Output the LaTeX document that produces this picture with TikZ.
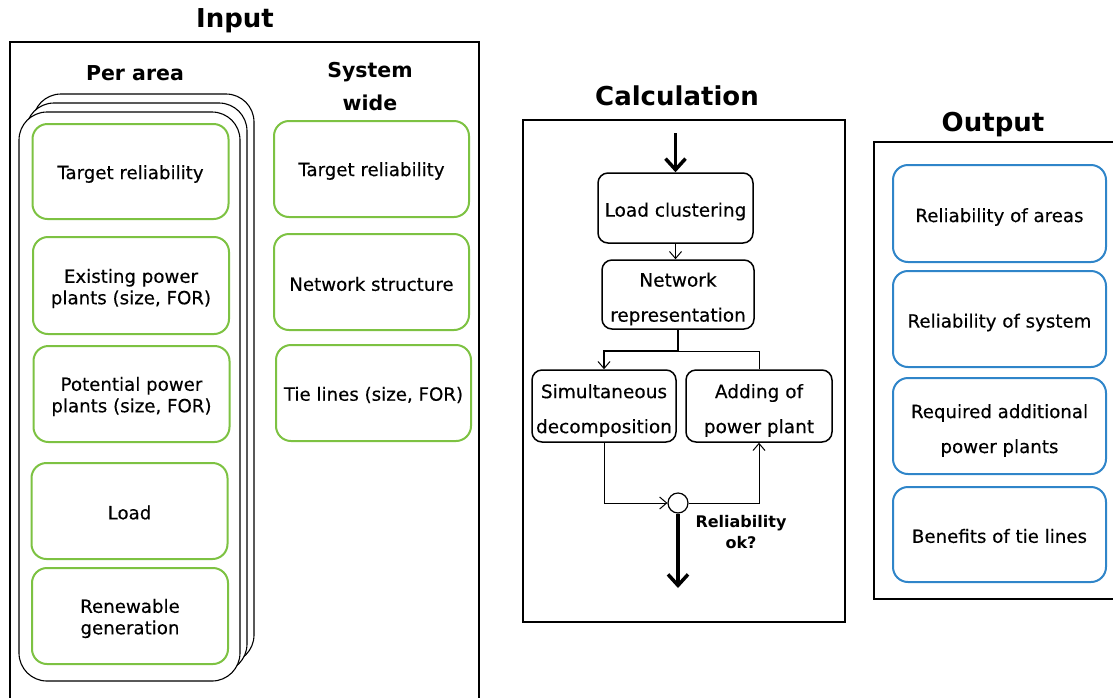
\documentclass[tikz,border=0pt]{standalone}
\usepackage{fontspec}
\setmainfont{DejaVu Sans}
\newfontfamily\boxfont{DejaVu Sans}[FakeBold=0.3]
\usetikzlibrary{arrows.meta}

\definecolor{ingreen}{HTML}{7DC242}
\definecolor{outblue}{HTML}{2F85C9}

\tikzset{
  frame/.style={draw=black, line width=2pt},
  title/.style={font=\fontsize{26}{30}\selectfont\bfseries},
  subtitle/.style={font=\fontsize{20.5}{33}\selectfont\bfseries, align=center},
  card/.style={draw=black, fill=white, line width=1.1pt, rounded corners=28pt},
  inbox/.style={draw=ingreen, fill=white, line width=2pt, rounded corners=15pt, inner sep=0pt},
  intext/.style={align=center, inner sep=0pt, font=\boxfont\fontsize{18.2}{21.5}\selectfont},
  outbox/.style={draw=outblue, fill=white, line width=2pt, rounded corners=15pt, inner sep=0pt},
  outtext/.style={align=center, inner sep=0pt, font=\boxfont\fontsize{18.2}{35}\selectfont},
  calcbox/.style={draw=black, line width=1.5pt, rounded corners=10pt, inner sep=0pt},
  calctext/.style={align=center, inner sep=0pt, font=\boxfont\fontsize{18.5}{35}\selectfont},
  flow/.style={draw=black, line width=1pt, -{Straight Barb[length=7pt,width=12pt,line width=1pt]}},
  link/.style={draw=black, line width=1pt},
  bigflow/.style={draw=black, line width=3.5pt, -{Straight Barb[length=11pt,width=20pt,line width=3.5pt]}},
}

\begin{document}
\begin{tikzpicture}[x=1pt, y=-1pt]
\useasboundingbox (0,0) rectangle (1113,697);
\clip (0,0) rectangle (1113,697);

% ---------------- Input ----------------
\node[title] (tin) at (235,20.5) {Input};
\draw[frame] (10,705) -- (10,42) -- (479,42) -- (479,705);

\node[subtitle] (tper) at (135,73) {Per area};
\node[subtitle] (tsys) at (370,87) {System\\wide};

% stacked area cards
\draw[card] (33,94) rectangle (254,663);
\draw[card] (26,103) rectangle (247,672);
\draw[card] (19,112) rectangle (240,681);

\node[inbox, minimum width=196pt, minimum height=95pt] (a1) at (130.5,171.5) {};
\node[inbox, minimum width=196pt, minimum height=97pt] (a2) at (131,285.5) {};
\node[inbox, minimum width=196pt, minimum height=96pt] (a3) at (131.5,394) {};
\node[inbox, minimum width=196pt, minimum height=96pt] (a4) at (129.5,511) {};
\node[inbox, minimum width=196pt, minimum height=96pt] (a5) at (130,616) {};
\node[intext] (a1t) at ([yshift=-2.5pt]a1.center) {Target reliability};
\node[intext] (a2t) at ([yshift=-3pt]a2.center) {Existing power\\plants (size, FOR)};
\node[intext] (a3t) at ([yshift=-2.5pt]a3.center) {Potential power\\plants (size, FOR)};
\node[intext] (a4t) at ([yshift=-1.5pt]a4.center) {Load};
\node[intext] (a5t) at ([yshift=-2.5pt]a5.center) {Renewable\\generation};

\node[inbox, minimum width=195pt, minimum height=96pt] (s1) at (371.5,169) {};
\node[inbox, minimum width=195pt, minimum height=96pt] (s2) at (371.5,282) {};
\node[inbox, minimum width=195pt, minimum height=96pt] (s3) at (373.5,393) {};
\node[intext] (s1t) at ([yshift=-2pt]s1.center) {Target reliability};
\node[intext] (s2t) at ([yshift=-2pt]s2.center) {Network structure};
\node[intext] (s3t) at ([yshift=-2pt]s3.center) {Tie lines (size, FOR)};

% ---------------- Calculation ----------------
\node[title] (tcalc) at (677,96) {Calculation};
\draw[frame] (523,120) rectangle (845,622);

\node[calcbox, minimum width=155pt, minimum height=70pt] (lc) at (675.5,208) {};
\node[calcbox, minimum width=152pt, minimum height=69pt] (nr) at (678,294.5) {};
\node[calcbox, minimum width=144pt, minimum height=72pt] (sd) at (604,406) {};
\node[calcbox, minimum width=146pt, minimum height=72pt] (ap) at (759,406) {};
\node[calctext] (lct) at ([yshift=-3.5pt]lc.center) {Load clustering};
\node[calctext] (nrt) at ([yshift=-4.5pt]nr.center) {Network\\representation};
\node[calctext] (sdt) at ([yshift=-4.5pt]sd.center) {Simultaneous\\decomposition};
\node[calctext] (apt) at ([yshift=-4.5pt]ap.center) {Adding of\\power plant};

\node[draw=black, line width=1.2pt, circle, fill=white, minimum size=20pt, inner sep=0pt] (ok) at (678,503) {};
\node[font=\fontsize{16}{21}\selectfont\bfseries, align=center] (okl) at (741,532.5) {Reliability\\ok?};

\coordinate (cin) at (675.5,133);
\coordinate (br) at (678,351);
\coordinate (cout) at (678,588);

\draw[bigflow] (cin) -- (lc.north);
\draw[flow] (lc.south) -- (lc.south |- nr.north);
\draw[link] (br) -| (ap.north);
\draw[link, line width=1.6pt] (nr.south) -- (br);
\draw[flow, line width=1.6pt] (br) -| (sd.north);
\draw[flow] (sd.south) |- (ok.west);
\draw[flow] (ok.east) -| (ap.south);
\draw[bigflow] (ok.south) -- (cout);

% ---------------- Output ----------------
\node[title] (tout) at (993,124.5) {Output};
\draw[frame] (1120,142) -- (874,142) -- (874,599) -- (1120,599);

\node[outbox, minimum width=213pt, minimum height=97pt] (o1) at (999.5,213.5) {};
\node[outbox, minimum width=213pt, minimum height=96pt] (o2) at (999.5,319) {};
\node[outbox, minimum width=213pt, minimum height=96pt] (o3) at (999.5,426) {};
\node[outbox, minimum width=213pt, minimum height=95pt] (o4) at (999.5,534.5) {};
\node[outtext] (o1t) at ([yshift=-3.5pt]o1.center) {Reliability of areas};
\node[outtext] (o2t) at ([yshift=-3.5pt]o2.center) {Reliability of system};
\node[outtext] (o3t) at ([yshift=-4.5pt]o3.center) {Required additional\\power plants};
\node[outtext] (o4t) at ([yshift=-1.5pt]o4.center) {Benefits of tie lines};
\end{tikzpicture}
\end{document}
